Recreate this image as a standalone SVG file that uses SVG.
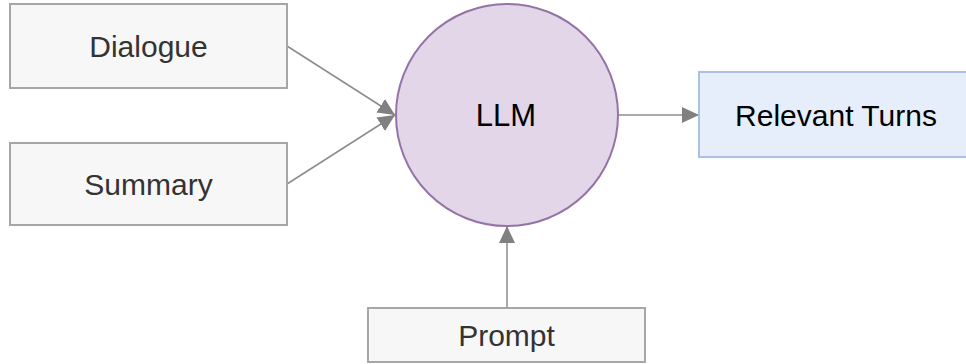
<svg xmlns="http://www.w3.org/2000/svg" width="966" height="364" viewBox="0 0 966 364">
  <style>
    .box { fill: #f7f7f7; stroke: #a6a6a6; stroke-width: 2; }
    .label { font-family: "Liberation Sans", Arial, sans-serif; font-size: 30px; text-anchor: middle; dominant-baseline: central; }
    .grey { fill: #333333; }
    .dark { fill: #000000; }
    .edge { fill: none; stroke: #8c8c8c; stroke-width: 1.5; }
  </style>
  <defs>
    <marker id="arrow" markerUnits="userSpaceOnUse" markerWidth="17" markerHeight="16" refX="17" refY="8" orient="auto">
      <path d="M0,0 L17,8 L0,16 Z" fill="#808080"/>
    </marker>
  </defs>
  <rect width="966" height="364" fill="#ffffff"/>

  <g id="connectors">
    <line class="edge" x1="287" y1="46" x2="395" y2="115" marker-end="url(#arrow)"/>
    <line class="edge" x1="287" y1="184" x2="395" y2="115" marker-end="url(#arrow)"/>
    <line class="edge" x1="618" y1="115" x2="699" y2="115" marker-end="url(#arrow)"/>
    <line class="edge" x1="507" y1="308" x2="507" y2="226" marker-end="url(#arrow)"/>
  </g>

  <g id="dialogue">
    <rect class="box" x="10" y="4" width="277" height="84"/>
    <text class="label grey" x="148.5" y="46">Dialogue</text>
  </g>

  <g id="summary">
    <rect class="box" x="10" y="143" width="277" height="82"/>
    <text class="label grey" x="148.5" y="184">Summary</text>
  </g>

  <g id="llm">
    <circle cx="507" cy="115" r="111" fill="#e2d6e8" stroke="#9673a6" stroke-width="2"/>
    <text class="label dark" x="506" y="115" style="font-size:31px">LLM</text>
  </g>

  <g id="relevant-turns">
    <rect x="699" y="72" width="276" height="85" fill="#e6eefb" stroke="#a9c1e2" stroke-width="2"/>
    <text class="label dark" x="836" y="115">Relevant Turns</text>
  </g>

  <g id="prompt">
    <rect class="box" x="368" y="308" width="277" height="54"/>
    <text class="label grey" x="506.5" y="335">Prompt</text>
  </g>
</svg>
